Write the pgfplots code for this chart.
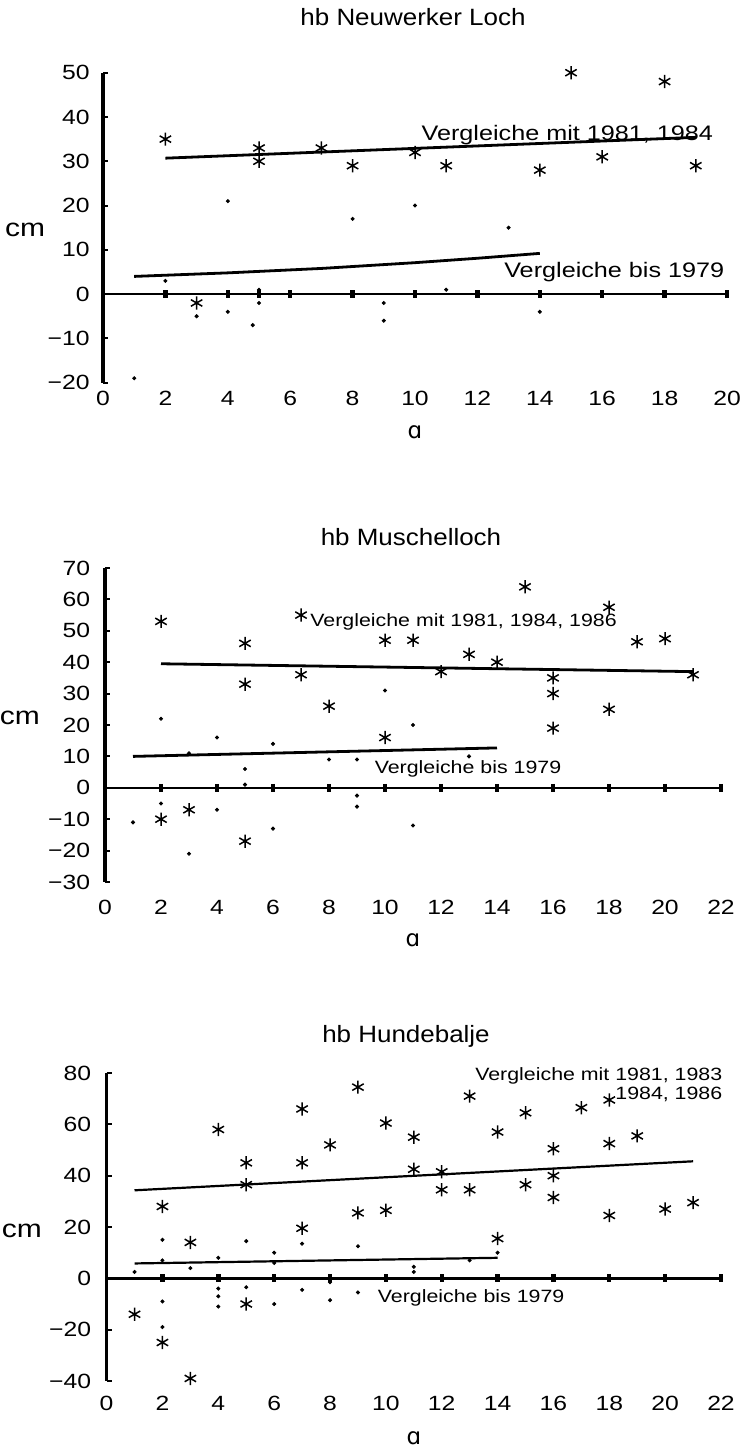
\documentclass[border=0pt]{standalone}
\usepackage{fontspec}
\setmainfont{Liberation Sans}[FakeStretch=1.2]
\newfontfamily\titlefont{Liberation Sans}[FakeStretch=1.1]
\newfontfamily\ipafont{DejaVu Sans}
\usepackage{pgfplots}
\pgfplotsset{compat=1.18}

\pgfplotsset{
  hbstyle/.style={
    scale only axis,
    anchor=south west,
    axis lines=left,
    x axis line style={draw=none},
    y axis line style={-, line width=1.8pt},
    xtick style={draw=none},
    ytick style={line width=1pt, black},
    major tick length=2.5pt,
    tick align=inside,
    clip=false,
    tick label style={font=\fontsize{10.3}{12}\selectfont},
    xticklabel style={anchor=base},
    xlabel={\ipafont ɑ},
    ylabel={cm},
    ylabel style={rotate=-90, anchor=center, font=\fontsize{12.5}{14}\selectfont},
    xlabel style={anchor=center, font=\fontsize{11.5}{13}\selectfont},
  },
  star/.style={only marks, mark=asterisk, mark size=3.3pt, mark options={line width=0.75pt}, black},
  dot/.style={only marks, mark=*, mark size=0.8pt, black},
  zmark/.style={only marks, mark=|, mark size=2pt, mark options={line width=2.2pt}, black},
  zline/.style={black, line width=1.2pt, no marks},
  reg/.style={black, line width=1.4pt, no marks},
}
\newcommand{\annot}{\fontsize{10.5}{12}\selectfont}
\newcommand{\annots}{\fontsize{8.9}{10}\selectfont}

\begin{document}
\begin{tikzpicture}
\useasboundingbox (0,0) rectangle (372pt,723.5pt);

% ---------------- Plot 1 ----------------
\begin{axis}[hbstyle,
  at={(51.5pt,532.15pt)}, width=312pt, height=155pt,
  xmin=0, xmax=20, ymin=-20, ymax=50,
  xtick={0,2,...,20}, xticklabels={0,2,4,6,8,10,12,14,16,18,20},
  ytick={-20,-10,...,50}, yticklabels={−20,−10,0,10,20,30,40,50},
  xticklabel style={yshift=-11.5pt},
  yticklabel style={xshift=-3.2pt},
  ylabel style={at={(axis description cs:-0.125,0.4926)}},
  xlabel style={at={(axis description cs:0.5,-0.159)}},
]
\addplot[zline] coordinates {(0,0) (20,0)};
\addplot[zmark] coordinates {(2,0) (4,0) (5,0) (6,0) (8,0) (10,0) (12,0) (14,0) (16,0) (18,0) (20,0)};
\addplot[reg] coordinates {(2,30.7) (19,35.4)};
\addplot[reg] coordinates {(1,4) (4,4.8) (7,5.8) (10,7.1) (12,8.1) (14,9.2)};
\addplot[star] coordinates {(2,35) (3,-2) (5,33) (5,30) (7,33) (8,29) (10,32) (11,29) (14,28) (15,50) (16,31) (18,48) (19,29)};
\addplot[dot] coordinates {(1,-19) (2,3) (3,-5) (4,21) (4,-4) (4.8,-7) (5,1) (5,-2) (8,17) (9,-2) (9,-6) (10,20) (11,1) (13,15) (14,-4)};
\node[anchor=base west, inner sep=0pt, font=\annot] at (axis cs:10.2,34.8) {Vergleiche mit 1981, 1984};
\node[anchor=base west, inner sep=0pt, font=\annot] at (axis cs:12.85,3.8) {Vergleiche bis 1979};
\end{axis}

% ---------------- Plot 2 ----------------
\begin{axis}[hbstyle,
  at={(52.5pt,282.5pt)}, width=308pt, height=157pt,
  xmin=0, xmax=22, ymin=-30, ymax=70,
  xtick={0,2,...,22}, xticklabels={0,2,4,6,8,10,12,14,16,18,20,22},
  ytick={-30,-20,...,70}, yticklabels={−30,−20,−10,0,10,20,30,40,50,60,70},
  xticklabel style={yshift=-16.5pt},
  yticklabel style={xshift=-3.9pt},
  ylabel style={at={(axis description cs:-0.138,0.522)}},
  xlabel style={at={(axis description cs:0.5,-0.185)}},
]
\addplot[zline] coordinates {(0,0) (22,0)};
\addplot[zmark] coordinates {(2,0) (4,0) (6,0) (8,0) (10,0) (12,0) (14,0) (16,0) (18,0) (20,0) (22,0)};
\addplot[reg] coordinates {(2,39.5) (21,37)};
\addplot[reg] coordinates {(1,10) (14,12.7)};
\addplot[star] coordinates {(2,53) (2,-10) (3,-7) (5,46) (5,33) (5,-17) (7,55) (7,36) (8,26) (10,47) (10,16) (11,47) (12,37) (13,42.5) (14,40) (15,64) (16,35) (16,30) (16,19) (18,57.5) (18,25) (19,46.5) (20,47.5) (21,36)};
\addplot[dot] coordinates {(1,-11) (2,22) (2,-5) (3,11) (3,-21) (4,16) (4,-7) (5,6) (5,1) (6,14) (6,-13) (8,9) (9,9) (9,-2.5) (9,-6) (10,31) (11,20) (11,-12) (13,10)};
\node[anchor=base west, inner sep=0pt, font=\annots] at (axis cs:7.32,51.3) {Vergleiche mit 1981, 1984, 1986};
\node[anchor=base west, inner sep=0pt, font=\annots] at (axis cs:9.62,4.5) {Vergleiche bis 1979};
\end{axis}

% ---------------- Plot 3 ----------------
\begin{axis}[hbstyle,
  at={(53.3pt,33pt)}, width=307.2pt, height=154pt,
  xmin=0, xmax=22, ymin=-40, ymax=80,
  xtick={0,2,...,22}, xticklabels={0,2,4,6,8,10,12,14,16,18,20,22},
  ytick={-40,-20,...,80}, yticklabels={−40,−20,0,20,40,60,80},
  xticklabel style={yshift=-15pt},
  yticklabel style={xshift=-4.2pt},
  ylabel style={at={(axis description cs:-0.138,0.487)}},
  xlabel style={at={(axis description cs:0.5,-0.185)}},
]
\addplot[zline, line width=1.3pt] coordinates {(0,0) (22,0)};
\addplot[zmark] coordinates {(2,0) (4,0) (6,0) (8,0) (10,0) (12,0) (14,0) (16,0) (18,0) (20,0) (22,0)};
\addplot[reg, line width=1.1pt] coordinates {(1,34.3) (21,45.6)};
\addplot[reg, line width=1.1pt] coordinates {(1,5.8) (14,8)};
\addplot[star] coordinates {(1,-14) (2,28) (2,-25) (3,14) (3,-39) (4,58) (5,45) (5,36.5) (5,-10) (7,66) (7,45) (7,19.5) (8,52) (9,74.5) (9,25.5) (10,60.5) (10,26.5) (11,55) (11,42.5) (12,41.5) (12,34.5) (13,71) (13,34.5) (14,57) (14,15.5) (15,64.5) (15,36.5) (16,50.5) (16,40) (16,31.5) (17,66.5) (18,69.5) (18,52.5) (18,24.5) (19,55.5) (20,27) (21,29.5)};
\addplot[dot] coordinates {(1,2.5) (2,15) (2,7) (2,-9) (2,-19) (3,4) (4,8) (4,-4) (4,-7) (4,-11) (5,14.5) (5,-3.5) (6,10) (6,6) (6,-10) (7,13.5) (7,-4.5) (8,-8.5) (8,-1.5) (9,12.5) (9,-5.5) (11,4.5) (11,2.5) (13,7) (14,10)};
\node[anchor=base east, inner sep=0pt, font=\annots] at (axis cs:22.06,77.2) {Vergleiche mit 1981, 1983};
\node[anchor=base east, inner sep=0pt, font=\annots] at (axis cs:22.06,69.6) {1984, 1986};
\node[anchor=base west, inner sep=0pt, font=\annots] at (axis cs:9.7,-9.5) {Vergleiche bis 1979};
\end{axis}

% ---------------- Titles ----------------
\node[anchor=base, inner sep=0pt, font=\titlefont\fontsize{11.8}{13}\selectfont] at (206.5pt,710.5pt) {hb Neuwerker Loch};
\node[anchor=base, inner sep=0pt, font=\titlefont\fontsize{11.8}{13}\selectfont] at (205.5pt,450.65pt) {hb Muschelloch};
\node[anchor=base, inner sep=0pt, font=\titlefont\fontsize{11.8}{13}\selectfont] at (203pt,202.15pt) {hb Hundebalje};
\end{tikzpicture}
\end{document}
